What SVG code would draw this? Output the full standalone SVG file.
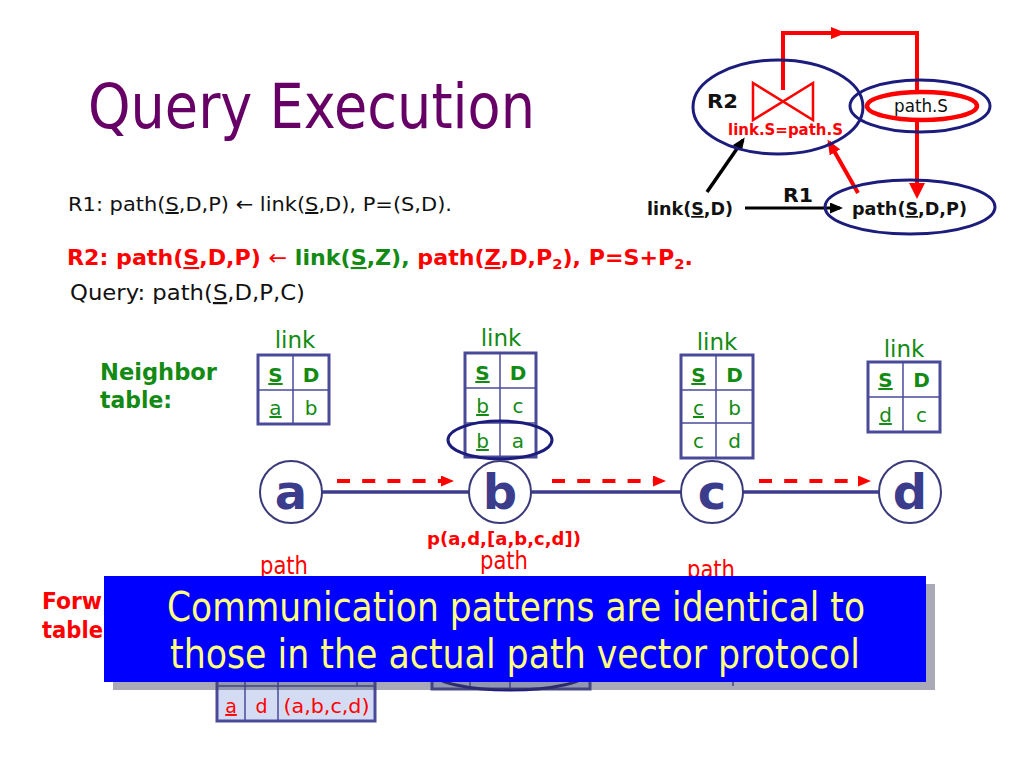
<svg xmlns="http://www.w3.org/2000/svg" width="1024" height="768" viewBox="0 0 1024 768">
<style>
.f{font-family:"DejaVu Sans","Noto Sans",sans-serif}
.bd{font-weight:bold}
.red{fill:#ff0000}
.grn{fill:#138a13}
.blk{fill:#111111}
.u{text-decoration:underline}
.nav{fill:none;stroke:#1c1c7c;stroke-width:3}
.tbl{fill:#ffffff;stroke:#4a4a9a;stroke-width:3}
.tbl2{fill:#d4dcf4;stroke:#4a4a9a;stroke-width:3}
.tln{stroke:#4a4a9a;stroke-width:1.5}
.cell{font-size:20px;text-anchor:middle}
.lbl{font-size:23px;text-anchor:middle}
.node circle{fill:#ffffff;stroke:#3a3a7a;stroke-width:2}
.node text{font-size:48px;font-weight:bold;fill:#3c3c8c;text-anchor:middle}
.link{stroke:#3c3c8c;stroke-width:3.5}
.msg{stroke:#ff0000;stroke-width:4;stroke-dasharray:13 12.2;marker-end:url(#hr)}
</style>
<defs>
<marker id="hr" markerUnits="userSpaceOnUse" markerWidth="13" markerHeight="11" refX="0" refY="5.5" orient="auto">
<path d="M0,0 L13,5.5 L0,11 z" fill="#ff0000"/>
</marker>
<marker id="hb" markerUnits="userSpaceOnUse" markerWidth="13" markerHeight="11" refX="10" refY="5.5" orient="auto">
<path d="M0,0 L13,5.5 L0,11 z" fill="#000000"/>
</marker>
<marker id="hr2" markerUnits="userSpaceOnUse" markerWidth="15" markerHeight="12" refX="12" refY="6" orient="auto">
<path d="M0,0 L15,6 L0,12 z" fill="#ff0000"/>
</marker>
</defs>
<rect width="1024" height="768" fill="#ffffff"/>

<text id="title" class="f" x="88" y="128" font-size="63" fill="#660066" textLength="447" lengthAdjust="spacingAndGlyphs">Query Execution</text>

<g id="rules" class="f">
<text x="68" y="211" font-size="20" class="blk" textLength="384" lengthAdjust="spacingAndGlyphs">R1: path(<tspan class="u">S</tspan>,D,P) ← link(<tspan class="u">S</tspan>,D), P=(S,D).</text>
<text x="67" y="265" font-size="21" class="bd red" textLength="626" lengthAdjust="spacingAndGlyphs">R2: path(<tspan class="u">S</tspan>,D,P) <tspan font-weight="normal">←</tspan> <tspan class="grn">link(<tspan class="u">S</tspan>,Z),</tspan> path(<tspan class="u">Z</tspan>,D,P<tspan font-size="14" dy="4">2</tspan><tspan dy="-4">), P=S+P</tspan><tspan font-size="14" dy="4">2</tspan><tspan dy="-4">.</tspan></text>
<text x="70" y="300" font-size="22" class="blk" textLength="235" lengthAdjust="spacingAndGlyphs">Query: path(<tspan class="u">S</tspan>,D,P,C)</text>
</g>

<g id="plan">
<g id="connectors-plan">
<polyline points="783,90 783,33 917,33 917,92" fill="none" stroke="#ff0000" stroke-width="4"/>
<polygon points="831,27 831,39 846,33" fill="#ff0000"/>
<line x1="917" y1="120" x2="917" y2="185" stroke="#ff0000" stroke-width="4"/>
<polygon points="909,183 925,183 917,199" fill="#ff0000"/>
<line x1="858" y1="193" x2="829" y2="142" stroke="#ff0000" stroke-width="4" marker-end="url(#hr2)"/>
<line x1="707" y1="192" x2="743" y2="140" stroke="#000000" stroke-width="3.5" marker-end="url(#hb)"/>
<line x1="745" y1="208" x2="840" y2="208" stroke="#000000" stroke-width="3" marker-end="url(#hb)"/>
</g>
<g id="r2-op">
<ellipse cx="778" cy="107" rx="85" ry="47" class="nav"/>
<path d="M753,83 L753,120 L813,83 L813,120 Z" fill="none" stroke="#ff0000" stroke-width="2.5" stroke-linejoin="miter"/>
<text class="f bd blk" x="707" y="108" font-size="19" textLength="31" lengthAdjust="spacingAndGlyphs">R2</text>
<text class="f bd red" x="728" y="135" font-size="15" textLength="115" lengthAdjust="spacingAndGlyphs">link.S=path.S</text>
</g>
<g id="path-s">
<ellipse cx="920" cy="106" rx="70" ry="26" class="nav"/>
<ellipse cx="922" cy="106" rx="55" ry="14" fill="none" stroke="#ff0000" stroke-width="4.5"/>
<text class="f blk" x="921" y="112" font-size="17" text-anchor="middle" textLength="54" lengthAdjust="spacingAndGlyphs">path.S</text>
</g>
<g id="link-sd">
<text class="f bd blk" x="647" y="215" font-size="17" textLength="86" lengthAdjust="spacingAndGlyphs">link(<tspan class="u">S</tspan>,D)</text>
</g>
<text class="f bd blk" x="783" y="202" font-size="20" textLength="30" lengthAdjust="spacingAndGlyphs">R1</text>
<g id="path-sdp">
<ellipse cx="910" cy="207" rx="85" ry="27" class="nav"/>
<text class="f bd blk" x="852" y="215" font-size="17" textLength="115" lengthAdjust="spacingAndGlyphs">path(<tspan class="u">S</tspan>,D,P)</text>
</g>
</g>

<g id="neighbor-label" class="f bd grn" font-size="23">
<text x="100" y="380" textLength="117" lengthAdjust="spacingAndGlyphs">Neighbor</text>
<text x="100" y="408" textLength="72" lengthAdjust="spacingAndGlyphs">table:</text>
</g>

<g id="table-a" class="f grn">
<text class="lbl" x="295" y="348">link</text>
<rect x="258" y="355" width="71" height="69" class="tbl"/>
<line x1="293" y1="355" x2="293" y2="424" class="tln"/>
<line x1="258" y1="390" x2="329" y2="390" class="tln"/>
<text class="cell bd u" x="275.5" y="382">S</text><text class="cell bd" x="311" y="382">D</text>
<text class="cell u" x="275.5" y="415">a</text><text class="cell" x="311" y="415">b</text>
</g>

<g id="table-b" class="f grn">
<text class="lbl" x="501" y="346">link</text>
<rect x="465" y="353" width="71" height="104" class="tbl"/>
<line x1="500" y1="353" x2="500" y2="457" class="tln"/>
<line x1="465" y1="388" x2="536" y2="388" class="tln"/>
<line x1="465" y1="423" x2="536" y2="423" class="tln"/>
<text class="cell bd u" x="482.5" y="380">S</text><text class="cell bd" x="518" y="380">D</text>
<text class="cell u" x="482.5" y="413">b</text><text class="cell" x="518" y="413">c</text>
<text class="cell u" x="482.5" y="448">b</text><text class="cell" x="518" y="448">a</text>
<ellipse cx="500" cy="440" rx="52" ry="19" class="nav"/>
</g>

<g id="table-c" class="f grn">
<text class="lbl" x="717" y="350">link</text>
<rect x="681" y="355" width="72" height="103" class="tbl"/>
<line x1="716" y1="355" x2="716" y2="458" class="tln"/>
<line x1="681" y1="390" x2="753" y2="390" class="tln"/>
<line x1="681" y1="423" x2="753" y2="423" class="tln"/>
<text class="cell bd u" x="698.5" y="382">S</text><text class="cell bd" x="734.5" y="382">D</text>
<text class="cell u" x="698.5" y="415">c</text><text class="cell" x="734.5" y="415">b</text>
<text class="cell" x="698.5" y="448">c</text><text class="cell" x="734.5" y="448">d</text>
</g>

<g id="table-d" class="f grn">
<text class="lbl" x="904" y="357">link</text>
<rect x="868" y="362" width="72" height="70" class="tbl"/>
<line x1="903" y1="362" x2="903" y2="432" class="tln"/>
<line x1="868" y1="397" x2="940" y2="397" class="tln"/>
<text class="cell bd u" x="885.5" y="387">S</text><text class="cell bd" x="921.5" y="387">D</text>
<text class="cell u" x="885.5" y="422">d</text><text class="cell" x="921.5" y="422">c</text>
</g>

<g id="connectors">
<line x1="322" y1="492" x2="469" y2="492" class="link"/>
<line x1="531" y1="492" x2="681" y2="492" class="link"/>
<line x1="743" y1="492" x2="879" y2="492" class="link"/>
<line x1="337" y1="481" x2="441" y2="481" class="msg"/>
<line x1="552" y1="481" x2="653" y2="481" class="msg"/>
<line x1="759" y1="481" x2="858" y2="481" class="msg"/>
</g>

<g id="node-a" class="node f"><circle cx="291" cy="492" r="31"/><text x="291" y="509">a</text></g>
<g id="node-b" class="node f"><circle cx="500" cy="492" r="31"/><text x="500" y="509">b</text></g>
<g id="node-c" class="node f"><circle cx="712" cy="492" r="31"/><text x="712" y="509">c</text></g>
<g id="node-d" class="node f"><circle cx="910" cy="492" r="31"/><text x="910" y="509">d</text></g>

<text class="f bd red" x="427" y="545" font-size="17" textLength="154" lengthAdjust="spacingAndGlyphs">p(a,d,[a,b,c,d])</text>

<g id="forwarding" class="f">
<text class="red" x="260" y="574" font-size="24" textLength="48" lengthAdjust="spacingAndGlyphs">path</text>
<text class="red" x="480" y="569" font-size="24" textLength="48" lengthAdjust="spacingAndGlyphs">path</text>
<text class="red" x="687" y="578" font-size="24" textLength="48" lengthAdjust="spacingAndGlyphs">path</text>
<text class="bd red" x="42" y="609" font-size="23" textLength="60" lengthAdjust="spacingAndGlyphs">Forw</text>
<text class="bd red" x="42" y="638" font-size="23" textLength="61" lengthAdjust="spacingAndGlyphs">table</text>
<rect x="217" y="600" width="158" height="121" class="tbl2"/>
<line x1="245" y1="600" x2="245" y2="721" class="tln"/>
<line x1="278" y1="600" x2="278" y2="721" class="tln"/>
<line x1="357" y1="640" x2="357" y2="686" class="tln"/>
<line x1="217" y1="686" x2="375" y2="686" class="tln"/>
<text class="red u" x="231" y="713" font-size="19" text-anchor="middle">a</text>
<text class="red" x="261.5" y="713" font-size="19" text-anchor="middle">d</text>
<text class="red" x="326.5" y="713" font-size="19" text-anchor="middle" textLength="86" lengthAdjust="spacingAndGlyphs">(a,b,c,d)</text>
<rect x="432" y="600" width="158" height="89" class="tbl2"/>
<line x1="470" y1="600" x2="470" y2="689" class="tln"/>
<line x1="510" y1="600" x2="510" y2="689" class="tln"/>
<ellipse cx="510" cy="672" rx="78" ry="18" class="nav"/>
<line x1="733" y1="640" x2="733" y2="686" class="tln"/>
</g>

<g id="callout">
<rect x="113" y="584" width="822" height="106" fill="#404060" opacity="0.45"/>
<rect x="104" y="576" width="822" height="106" fill="#0000ff"/>
<text class="f" x="516" y="621" font-size="41" fill="#ffff80" text-anchor="middle" textLength="698" lengthAdjust="spacingAndGlyphs">Communication patterns are identical to</text>
<text class="f" x="515" y="668" font-size="41" fill="#ffff80" text-anchor="middle" textLength="690" lengthAdjust="spacingAndGlyphs">those in the actual path vector protocol</text>
</g>
</svg>
